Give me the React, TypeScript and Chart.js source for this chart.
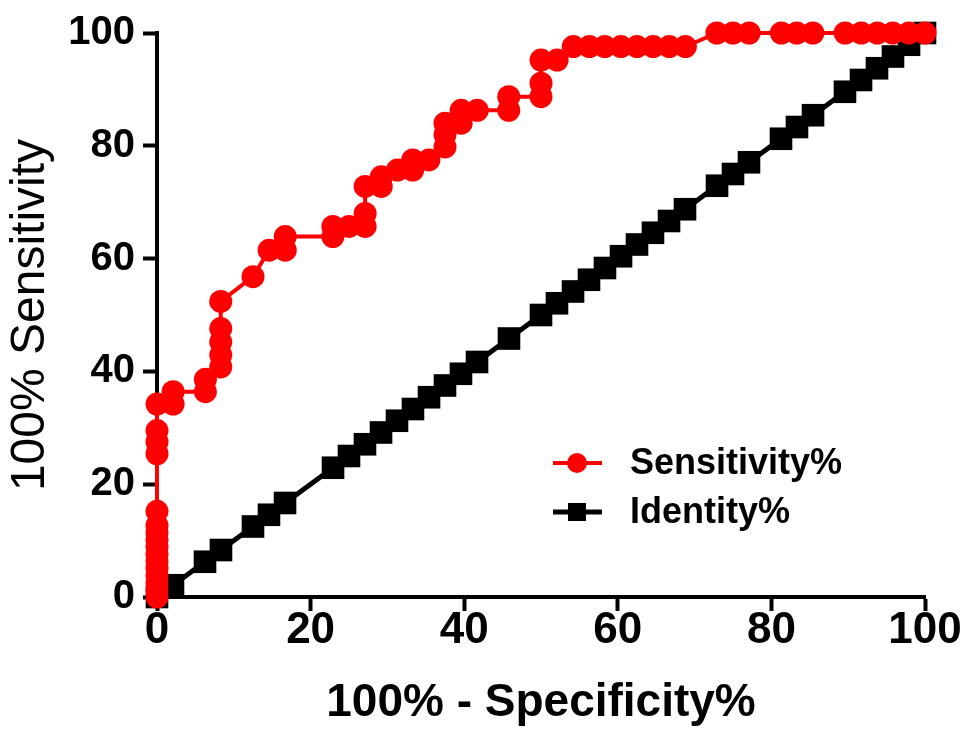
import React, { useEffect, useRef } from 'react';
import { Chart, registerables } from 'chart.js';

Chart.register(...registerables);

// ROC curve: 100% - Specificity% (x) and Sensitivity% (y)
const rocFpr: number[] = [
  0, 0, 0, 0, 0, 0, 0, 0, 0, 0, 0, 0, 0, 0, 0, 0,
  2.1, 2.1, 6.3, 6.3, 8.3, 8.3, 8.3, 8.3, 8.3,
  12.5, 14.6, 16.7, 16.7, 22.9, 22.9, 25, 27.1, 27.1, 27.1,
  29.2, 29.2, 31.3, 33.3, 33.3, 35.4, 37.5, 37.5, 37.5, 39.6, 39.6,
  41.7, 45.8, 45.8, 50, 50, 50, 52.1, 54.2, 56.3, 58.3, 60.4,
  62.5, 64.6, 66.7, 68.8, 72.9, 75, 77.1, 81.3, 83.3, 85.4,
  89.6, 91.7, 93.8, 95.8, 97.9, 100,
];
const rocSens: number[] = [
  0, 1.3, 2.5, 3.8, 5.1, 6.3, 7.6, 8.9, 10.1, 11.4, 12.7, 15.2, 25.4, 27.5, 29.5, 34.2,
  34.2, 36.4, 36.4, 38.6, 40.8, 42.9, 45.2, 47.6, 52.4,
  56.8, 61.5, 61.5, 63.9, 63.9, 65.7, 65.7, 65.7, 68, 72.8,
  72.8, 74.5, 75.7, 75.7, 77.5, 77.5, 79.8, 82, 84, 84, 86.3,
  86.3, 86.3, 88.7, 88.7, 91.1, 95.2, 95.2, 97.6, 97.6, 97.6, 97.6,
  97.6, 97.6, 97.6, 97.6, 100, 100, 100, 100, 100, 100,
  100, 100, 100, 100, 100, 100,
];

// reference (chance) line
const identityX: number[] = [
  0, 2.08, 6.25, 8.33, 12.5, 14.58, 16.67, 22.92, 25, 27.08, 29.17, 31.25,
  33.33, 35.42, 37.5, 39.58, 41.67, 45.83, 50, 52.08, 54.17, 56.25, 58.33,
  60.42, 62.5, 64.58, 66.67, 68.75, 72.92, 75, 77.08, 81.25, 83.33, 85.42,
  89.58, 91.67, 93.75, 95.83, 97.92, 100,
];
const identityY: number[] = [
  0, 2.08, 6.25, 8.33, 12.5, 14.58, 16.67, 22.92, 25, 27.08, 29.17, 31.25,
  33.33, 35.42, 37.5, 39.58, 41.67, 45.83, 50, 52.08, 54.17, 56.25, 58.33,
  60.42, 62.5, 64.58, 66.67, 68.75, 72.92, 75, 77.08, 81.25, 83.33, 85.42,
  89.58, 91.67, 93.75, 95.83, 97.92, 100,
];

const axisTicks: number[] = [0, 20, 40, 60, 80, 100];
const seriesNames: string[] = ['Sensitivity%', 'Identity%'];

const SANS = "'Liberation Sans', Arial, sans-serif";
const NARROW = "'Liberation Sans Narrow', 'Arial Narrow', 'Liberation Sans', sans-serif";

// legend drawn inside the plot, lower right, like the GraphPad original
const insideLegend = {
  id: 'insideLegend',
  afterDatasetsDraw(chart: Chart) {
    const { ctx, chartArea } = chart;
    const x0 = chartArea.left + 396;
    const rows = [chartArea.top + 430, chartArea.top + 479];
    ctx.save();
    ctx.font = `bold 36px ${SANS}`;
    ctx.textBaseline = 'middle';
    ctx.textAlign = 'left';
    rows.forEach((y, i) => {
      const color = i === 0 ? '#ff0000' : '#000000';
      ctx.strokeStyle = color;
      ctx.fillStyle = color;
      ctx.lineWidth = i === 0 ? 4 : 5;
      ctx.beginPath();
      ctx.moveTo(x0, y);
      ctx.lineTo(x0 + 49, y);
      ctx.stroke();
      if (i === 0) {
        ctx.beginPath();
        ctx.arc(x0 + 24, y, 10, 0, Math.PI * 2);
        ctx.fill();
      } else {
        ctx.fillRect(x0 + 15, y - 9, 18, 18);
      }
      ctx.fillStyle = '#000';
      ctx.fillText(seriesNames[i], x0 + 77, y + 1);
    });
    ctx.restore();
  },
};

const RocChart: React.FC = () => {
  const canvasRef = useRef<HTMLCanvasElement>(null);

  useEffect(() => {
    if (!canvasRef.current) return;
    const chart = new Chart(canvasRef.current, {
      type: 'line',
      data: {
        datasets: [
          {
            label: seriesNames[0],
            data: rocFpr.map((x, i) => ({ x, y: rocSens[i] })),
            borderColor: '#ff0000',
            backgroundColor: '#ff0000',
            borderWidth: 4,
            pointStyle: 'circle',
            pointRadius: 11.5,
            pointBorderWidth: 0,
            pointHoverRadius: 11.5,
            clip: false,
            order: 0,
          },
          {
            label: seriesNames[1],
            data: identityX.map((x, i) => ({ x, y: identityY[i] })),
            borderColor: '#000000',
            backgroundColor: '#000000',
            borderWidth: 5,
            pointStyle: 'rect',
            pointRadius: 16,
            pointBorderWidth: 0,
            pointHoverRadius: 16,
            clip: false,
            order: 1,
          },
        ],
      },
      options: {
        responsive: false,
        animation: false,
        layout: { padding: { top: 33, right: 44, bottom: 0, left: 0 } },
        plugins: {
          legend: { display: false },
          tooltip: { enabled: false },
        },
        scales: {
          x: {
            type: 'linear',
            min: 0,
            max: 100,
            afterBuildTicks: (scale: any) => {
              scale.ticks = axisTicks.map((v) => ({ value: v }));
            },
            afterFit: (scale: any) => {
              scale.height = 145;
            },
            grid: {
              display: true,
              drawOnChartArea: false,
              drawTicks: true,
              tickLength: 14,
              tickWidth: 4,
              tickColor: '#000',
            },
            border: { display: true, color: '#000', width: 4 },
            ticks: {
              color: '#000',
              padding: -2,
              maxRotation: 0,
              font: { family: NARROW, size: 44, weight: 'bold', lineHeight: 1 },
            },
            title: {
              display: true,
              text: '100% - Specificity%',
              color: '#000',
              padding: { top: 0, bottom: 11 },
              font: { family: SANS, size: 46, weight: 'bold' },
            },
          },
          y: {
            type: 'linear',
            min: 0,
            max: 100,
            afterBuildTicks: (scale: any) => {
              scale.ticks = axisTicks.map((v) => ({ value: v }));
            },
            afterFit: (scale: any) => {
              scale.width = 157;
            },
            grid: {
              display: true,
              drawOnChartArea: false,
              drawTicks: true,
              tickLength: 14,
              tickWidth: 4,
              tickColor: '#000',
            },
            border: { display: true, color: '#000', width: 4 },
            ticks: {
              color: '#000',
              padding: 8,
              font: { family: SANS, size: 40, weight: 'bold' },
            },
            title: {
              display: true,
              text: '100% Sensitivity',
              color: '#000',
              padding: { top: 2, bottom: 0 },
              font: { family: SANS, size: 48, weight: 'normal' },
            },
          },
        },
      },
      plugins: [insideLegend],
    });

    return () => {
      chart.destroy();
    };
  }, []);

  return (
    <div style={{ position: 'fixed', left: 0, top: 0, width: 969, height: 742, background: '#fff' }}>
      <canvas ref={canvasRef} width={969} height={742} style={{ display: 'block' }} />
    </div>
  );
};

export default function App() {
  return <RocChart />;
}
